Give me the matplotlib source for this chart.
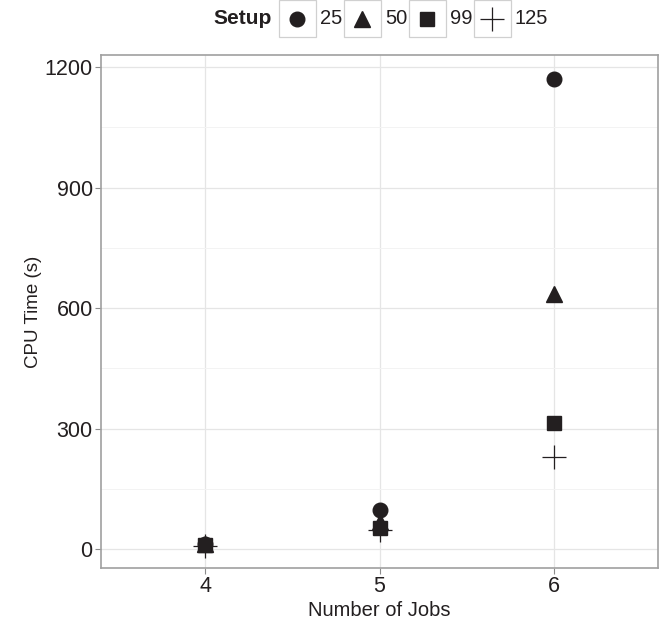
import matplotlib.pyplot as plt
from matplotlib.patches import Rectangle
from matplotlib.lines import Line2D

plt.rcParams['font.family'] = ['Liberation Sans', 'DejaVu Sans']

INK = '#231f20'

jobs = [4, 5, 6]
setups = ['25', '50', '99', '125']
cpu_time = {
    '25': [12, 97, 1170],
    '50': [13, 68, 635],
    '99': [10, 52, 314],
    '125': [8, 48, 229],
}
marker_style = {
    '25': dict(marker='o', markersize=10.5),
    '50': dict(marker='^', markersize=11.5),
    '99': dict(marker='s', markersize=10),
    '125': dict(marker='+', markersize=17, markeredgewidth=0.9),
}
y_ticks = [0, 300, 600, 900, 1200]
y_minor = [150, 450, 750, 1050]

fig = plt.figure(figsize=(6.64, 6.26), dpi=100)
ax = fig.add_axes([101 / 664, 1 - 568 / 626, 557 / 664, 513 / 626])

for s in setups:
    st = marker_style[s]
    ax.plot(jobs, cpu_time[s], linestyle='none', color=INK,
            markerfacecolor=INK, markeredgecolor=INK, zorder=3, **st)

ax.set_xlim(3.4, 6.6)
ax.set_ylim(-47, 1230)
ax.set_xticks(jobs)
ax.set_yticks(y_ticks)
ax.set_yticks(y_minor, minor=True)
ax.tick_params(axis='y', which='minor', length=0)
ax.tick_params(which='major', length=4, color='#8c8c8c', labelsize=15.5,
               labelcolor=INK, pad=2)
ax.grid(True, which='major', color='#e5e5e5', linewidth=0.9)
ax.grid(True, which='minor', axis='y', color='#f3f3f3', linewidth=0.7)
ax.set_axisbelow(True)
for sp in ax.spines.values():
    sp.set_color('#a0a0a0')
    sp.set_linewidth(1.2)

ax.set_xlabel('Number of Jobs', fontsize=14.5, color=INK, labelpad=3)
ax.set_ylabel('CPU Time (s)', fontsize=13.5, color=INK, labelpad=2)

# legend strip across the top
W, H = 664, 626
fig.text(213 / W, 1 - 19 / H, 'Setup', fontsize=15, fontweight='bold',
         color=INK, ha='left', va='center')
box_left = [279, 344, 409, 474]
for left, s in zip(box_left, setups):
    fig.add_artist(Rectangle((left / W, 1 - 37 / H), 37 / W, 37 / H,
                             transform=fig.transFigure, facecolor='white',
                             edgecolor='#d0d0d0', linewidth=0.9))
    st = marker_style[s]
    fig.add_artist(Line2D([(left + 18) / W], [1 - 19 / H],
                          transform=fig.transFigure, linestyle='none',
                          color=INK, markerfacecolor=INK,
                          markeredgecolor=INK, **st))
    fig.text((left + 41) / W, 1 - 19 / H, s, fontsize=14.5, color=INK,
             ha='left', va='center')

fig.savefig('out.png', dpi=100)
